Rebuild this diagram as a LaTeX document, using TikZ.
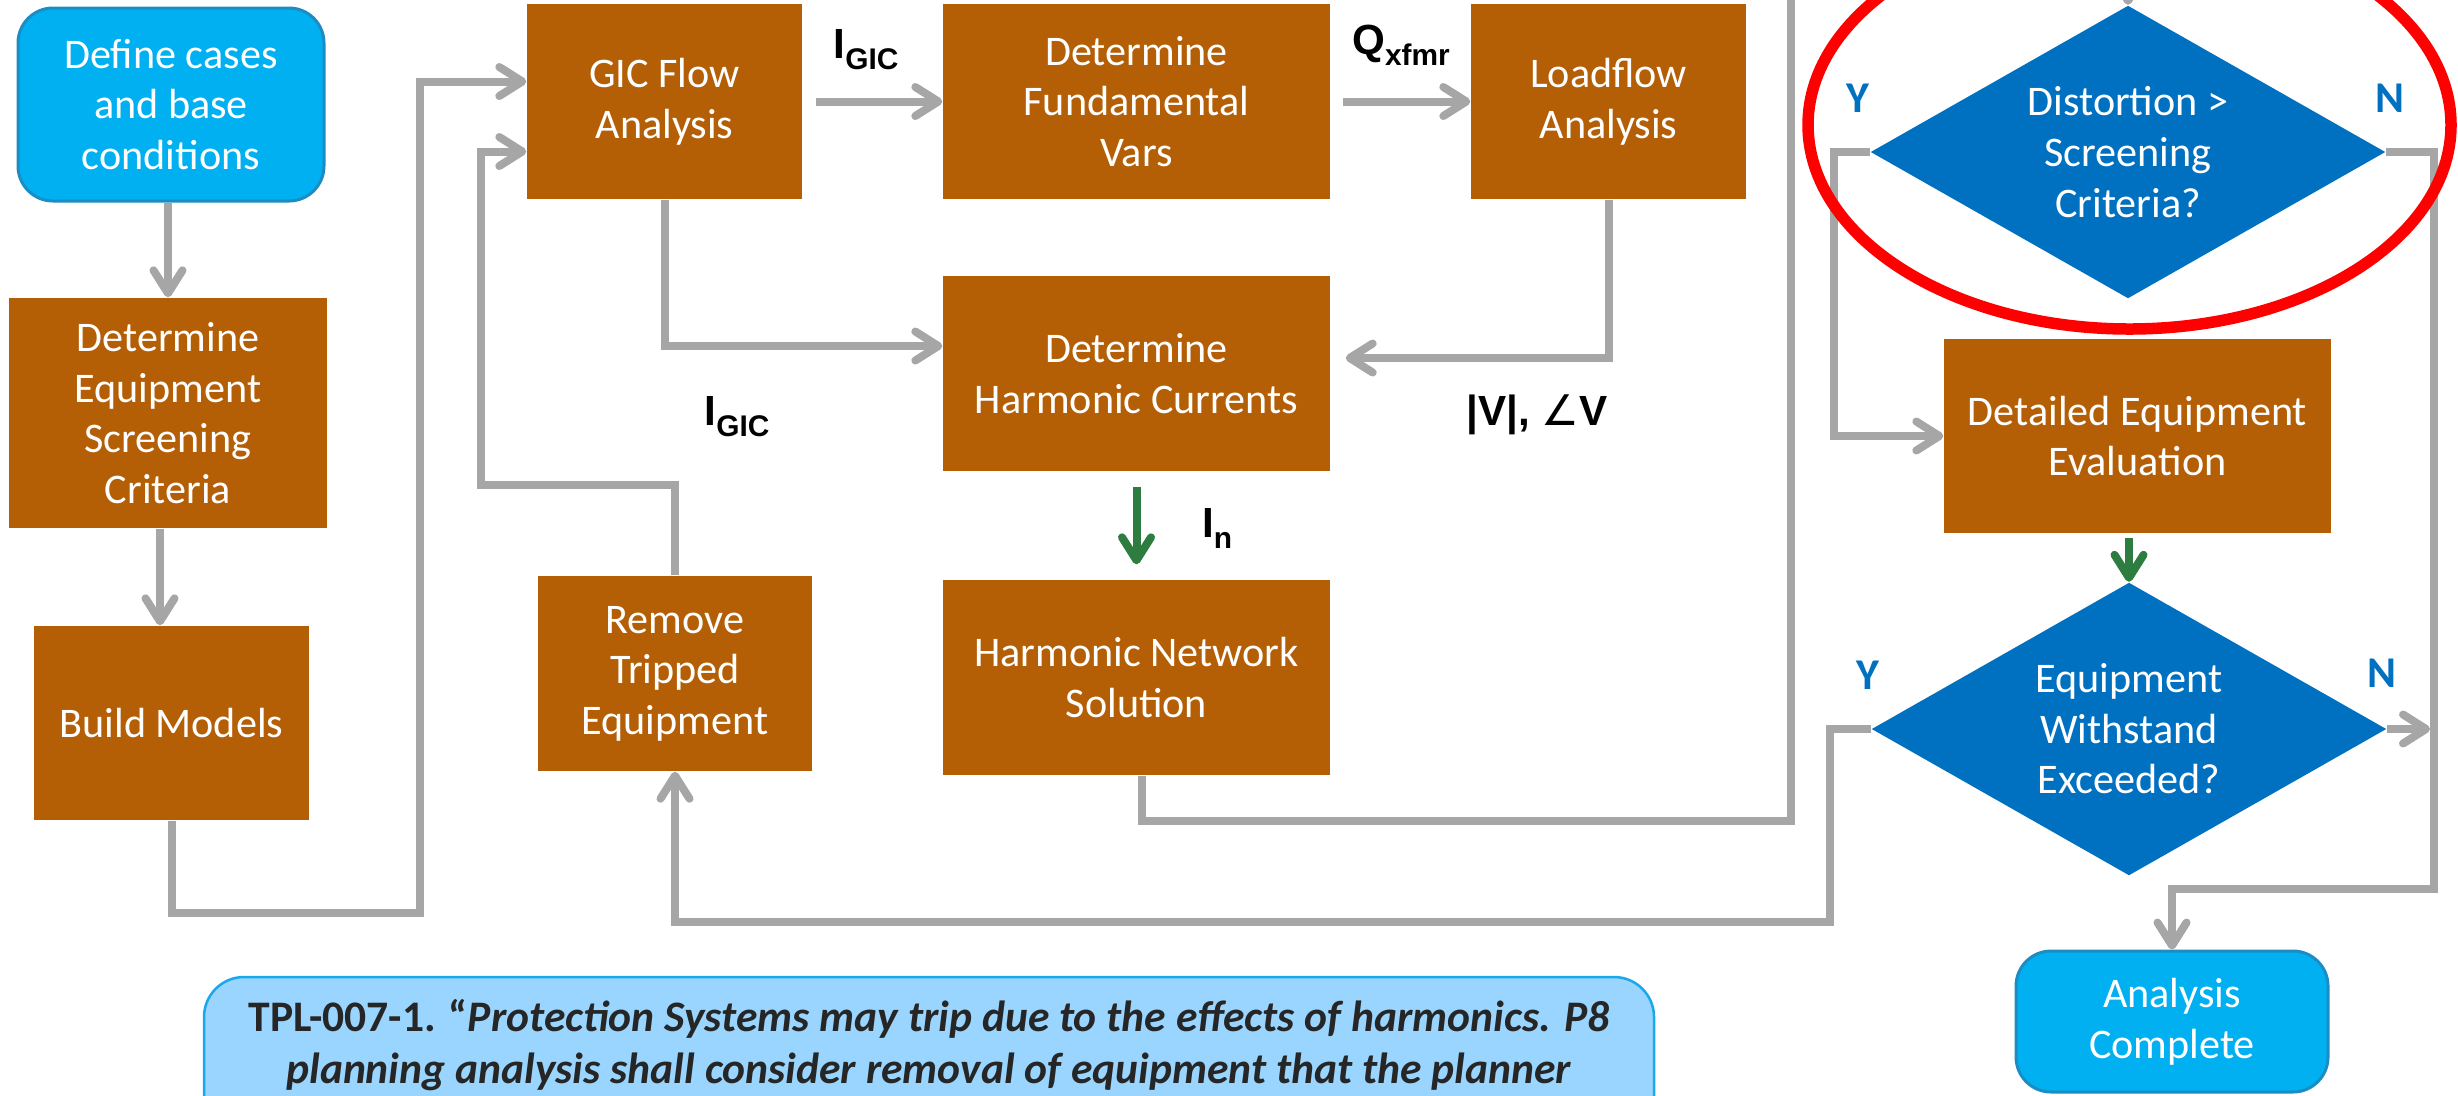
\documentclass[tikz,border=0pt]{standalone}
\usepackage{fontspec}
\setmainfont{Carlito}
\newfontfamily\arialf{Liberation Sans}
\newfontfamily\dejavuf{DejaVu Sans}
\usetikzlibrary{arrows.meta,shapes.geometric}
\definecolor{brownbox}{HTML}{B45F06}
\definecolor{cyanbox}{HTML}{00B0F0}
\definecolor{cyanedge}{HTML}{1C8DC4}
\definecolor{diablue}{HTML}{0070C0}
\definecolor{lgray}{HTML}{A6A6A6}
\definecolor{darkgreen}{HTML}{2E7D40}
\definecolor{notefill}{HTML}{99D5FE}
\definecolor{noteedge}{HTML}{1AA7EC}
\definecolor{notetext}{HTML}{262626}
\newcommand{\subl}[1]{{\fontsize{8.5}{10}\selectfont\raisebox{-1.1mm}{#1}}}
\begin{document}
\begin{tikzpicture}[x=0.1mm,y=-0.1mm,
  txt/.style={text=white, align=center, inner sep=0pt, font=\fontsize{12}{14.4}\selectfont},
  procbox/.style={txt, fill=brownbox},
  termbox/.style={txt, fill=cyanbox, draw=cyanedge, line width=0.3mm, rounded corners=3.5mm},
  decision/.style={txt, diamond, shape aspect=1.76, fill=diablue, minimum width=51.5mm, minimum height=29.3mm},
  conn/.style={draw=lgray, line width=0.8mm},
  arr/.style={conn, -{Straight Barb[length=2.3mm,width=2.9mm,line cap=round,line join=round]}},
  garr/.style={arr, draw=darkgreen},
  lab/.style={inner sep=0pt, text=black, font=\arialf\bfseries\fontsize{12}{14}\selectfont},
  yn/.style={inner sep=0pt, text=diablue, font=\bfseries\fontsize{12.5}{15}\selectfont},
]
\useasboundingbox (0,0) rectangle (2458,1095);
\clip (0,0) rectangle (2458,1095);

% nodes
\node[termbox, minimum width=30.6mm, minimum height=19.3mm] (define) at (171,104.5) {Define cases\\and base\\conditions};
\node[procbox, minimum width=31.8mm, minimum height=23mm] (crit) at (168,413) {Determine\\Equipment\\Screening\\Criteria};
\node[procbox, minimum width=27.5mm, minimum height=19.4mm] (build) at (171.5,723) {Build Models};
\node[procbox, minimum width=27.5mm, minimum height=19.5mm] (gic) at (664.5,101.5) {GIC Flow\\Analysis};
\node[procbox, minimum width=38.7mm, minimum height=19.5mm] (fund) at (1136.5,101.5) {Determine\\Fundamental\\Vars};
\node[procbox, minimum width=27.5mm, minimum height=19.5mm] (load) at (1608.5,101.5) {Loadflow\\Analysis};
\node[procbox, minimum width=38.7mm, minimum height=19.5mm] (harmc) at (1136.5,373.5) {Determine\\Harmonic Currents};
\node[procbox, minimum width=38.7mm, minimum height=19.5mm] (hns) at (1136.5,677.5) {Harmonic Network\\Solution};
\node[procbox, minimum width=27.4mm, minimum height=19.5mm] (remove) at (675,673.5) {Remove\\Tripped\\Equipment};
\node[decision] (dia1) at (2128,152) {Distortion >\\Screening\\Criteria?};
\node[procbox, minimum width=38.7mm, minimum height=19.4mm] (detail) at (2137.5,436) {Detailed Equipment\\Evaluation};
\node[decision] (dia2) at (2129,729) {Equipment\\Withstand\\Exceeded?};
\node[termbox, minimum width=31.2mm, minimum height=14.1mm] (done) at (2172,1021.5) {Analysis\\Complete};

% note box (runs off the bottom edge)
\draw[fill=notefill, draw=noteedge, line width=0.25mm, rounded corners=4mm] (204,977) rectangle (1654,1180);
\node[inner sep=0pt, align=center, text=notetext, font=\bfseries\fontsize{12.4}{15}\selectfont] (notetext) at (929,1045) {TPL-007-1. “\textit{Protection Systems may trip due to the effects of harmonics. P8}\\\textit{planning analysis shall consider removal of equipment that the planner}};

% labels
\node[lab, anchor=base] (lgic1) at (866,58) {I\subl{GIC}};
\node[lab, anchor=base] (lq) at (1401,54) {Q\subl{xfmr}};
\node[lab, anchor=base] (lgic2) at (737,425) {I\subl{GIC}};
\node[lab, anchor=base] (lv) at (1537,425) {|V|, {\dejavuf\mdseries ∠}V};
\node[lab, anchor=base] (lin) at (1217,537) {I\subl{n}};
\node[yn, anchor=base] (y1) at (1858,112) {Y};
\node[yn, anchor=base] (n1) at (2390,112) {N};
\node[yn, anchor=base] (y2) at (1868,689) {Y};
\node[yn, anchor=base] (n2) at (2382,687) {N};

\coordinate (nline) at (2430,729);

% connectors
\draw[arr] (crit.north |- define.south) -- (crit.north);
\draw[arr] ([xshift=-0.8mm]crit.south) -- ([xshift=-0.8mm]crit.south |- build.north);
\draw[arr] (build.south) |- (420,913) |- ([yshift=2mm]gic.west);
\draw[arr] (remove.north) |- (481,485) |- ([yshift=-5mm]gic.west);
\draw[arr, shorten <=1.3mm] (gic.east) -- (fund.west);
\draw[arr, shorten <=1.2mm] (fund.east) -- (load.west);
\draw[arr] (gic.south) |- ([yshift=2.75mm]harmc.west);
\draw[arr, shorten >=1.5mm] (load.south) |- ([yshift=1.55mm]harmc.east);
\draw[garr, shorten <=1.5mm, shorten >=1.5mm] (harmc.south) -- (hns.north);
\draw[arr] ([xshift=0.55mm]hns.south) |- (1791,821) -- (1791,-40) -| (dia1.north);
\draw[arr] (dia1.west) -- ++(-3.6mm,0) |- (detail.west);
\draw[arr] (dia1.east) -| (2434,889) -| (done.north);
\draw[garr, shorten <=0.4mm] (dia2.north |- detail.south) -- (dia2.north);
\draw[arr] (dia2.east) -- (nline);
\draw[arr] (dia2.west) -- ++(-4.1mm,0) |- (675,922) -- (remove.south);

% highlight
\draw[red, line width=1.15mm] (2129.5,125) ellipse [x radius=32.15mm, y radius=20.4mm];
\end{tikzpicture}
\end{document}
